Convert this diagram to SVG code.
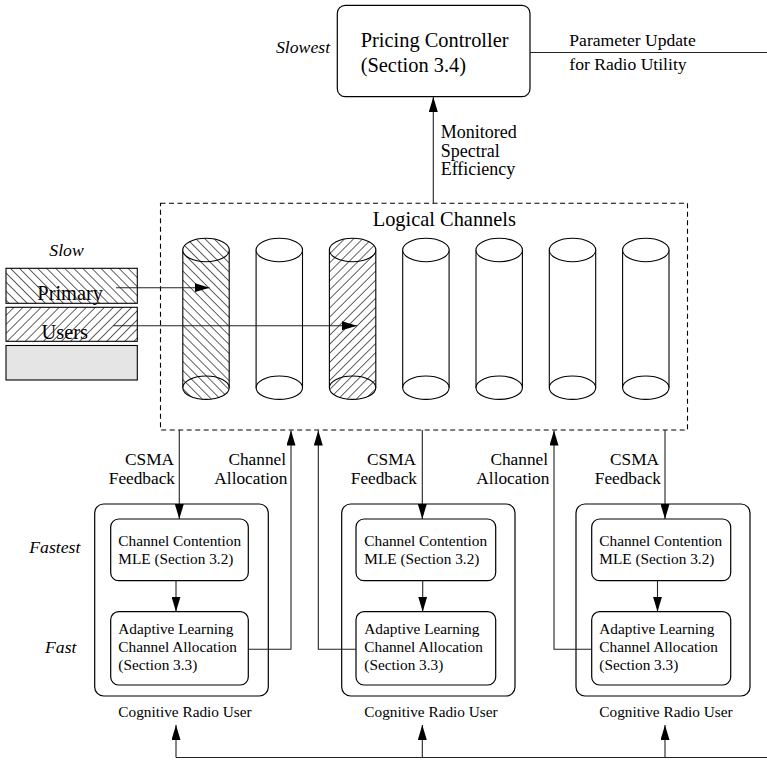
<svg xmlns="http://www.w3.org/2000/svg" width="767" height="760" viewBox="0 0 767 760" font-family="'Liberation Serif', 'Times New Roman', serif">
  <style>
    text { font-family: "Liberation Serif", "Times New Roman", serif; fill: #000; }
    .box { fill: #fff; stroke: #000; stroke-width: 1.2; }
    .dash { fill: none; stroke: #000; stroke-width: 1.1; stroke-dasharray: 5 3.5; }
    .wire { fill: none; stroke: #222; stroke-width: 1.1; }
    .cyl { stroke: #000; stroke-width: 1.1; }
    .t20 { font-size: 20.4px; }
    .t18 { font-size: 18px; }
    .t17 { font-size: 17.3px; }
    .t15 { font-size: 15.3px; }
    .ital { font-size: 17.7px; font-style: italic; }
  </style>
  <defs>
    <marker id="arrow" viewBox="0 0 15 9" refX="15" refY="4.5" markerWidth="15" markerHeight="9" markerUnits="userSpaceOnUse" orient="auto">
      <path d="M0,0 L15,4.5 L0,9 Z" fill="#000"/>
    </marker>
    <!-- back-slash hatching -->
    <pattern id="hatchBack" width="6.4" height="10" patternUnits="userSpaceOnUse" patternTransform="rotate(-45)">
      <rect width="6.4" height="10" fill="#fff"/>
      <line x1="3.2" y1="0" x2="3.2" y2="10" stroke="#333" stroke-width="0.8"/>
    </pattern>
    <!-- forward-slash hatching -->
    <pattern id="hatchFwd" width="6.4" height="10" patternUnits="userSpaceOnUse" patternTransform="rotate(45)">
      <rect width="6.4" height="10" fill="#fff"/>
      <line x1="3.2" y1="0" x2="3.2" y2="10" stroke="#333" stroke-width="0.8"/>
    </pattern>
    <!-- channel cylinder, centred on x=0 -->
    <g id="cylOutline">
      <line x1="-23.2" y1="250" x2="-23.2" y2="387.7"/>
      <line x1="23.2" y1="250" x2="23.2" y2="387.7"/>
      <ellipse cx="0" cy="250" rx="23.2" ry="11.7"/>
      <ellipse cx="0" cy="387.7" rx="23.2" ry="11.7" fill="none"/>
    </g>
    <path id="cylBody" d="M-23.2,250 L-23.2,387.7 A23.2,11.7 0 0 0 23.2,387.7 L23.2,250 A23.2,11.7 0 0 0 -23.2,250 Z"/>
  </defs>

  <!-- pricing controller -->
  <g id="pricing">
    <rect class="box" x="337.3" y="5.3" width="192.7" height="91.4" rx="8"/>
    <text class="t20" x="360.7" y="47.3">Pricing Controller</text>
    <text class="t20" x="360.7" y="71.5">(Section 3.4)</text>
    <text class="ital" x="276" y="53">Slowest</text>
  </g>

  <!-- logical channels -->
  <g id="logical-channels">
    <rect class="dash" x="160.5" y="203.3" width="527" height="226.7"/>
    <text class="t20" x="372.7" y="226">Logical Channels</text>
    <g class="cyl" fill="url(#hatchBack)" transform="translate(206,0)">
      <use href="#cylBody" stroke="none"/>
      <use href="#cylOutline" fill="url(#hatchBack)"/>
    </g>
    <g class="cyl" fill="#fff" transform="translate(279.3,0)">
      <use href="#cylBody" stroke="none"/>
      <use href="#cylOutline"/>
    </g>
    <g class="cyl" fill="url(#hatchFwd)" transform="translate(352.6,0)">
      <use href="#cylBody" stroke="none"/>
      <use href="#cylOutline" fill="url(#hatchFwd)"/>
    </g>
    <g class="cyl" fill="#fff" transform="translate(425.9,0)">
      <use href="#cylBody" stroke="none"/>
      <use href="#cylOutline"/>
    </g>
    <g class="cyl" fill="#fff" transform="translate(499.2,0)">
      <use href="#cylBody" stroke="none"/>
      <use href="#cylOutline"/>
    </g>
    <g class="cyl" fill="#fff" transform="translate(572.5,0)">
      <use href="#cylBody" stroke="none"/>
      <use href="#cylOutline"/>
    </g>
    <g class="cyl" fill="#fff" transform="translate(645.8,0)">
      <use href="#cylBody" stroke="none"/>
      <use href="#cylOutline"/>
    </g>
  </g>

  <!-- primary users -->
  <g id="primary-users">
    <text class="ital" x="49.3" y="255.7">Slow</text>
    <rect x="6" y="268.3" width="131.3" height="35" fill="url(#hatchBack)" stroke="#000" stroke-width="1.1"/>
    <rect x="6" y="307.3" width="131.3" height="34" fill="url(#hatchFwd)" stroke="#000" stroke-width="1.1"/>
    <rect x="6" y="345.5" width="131.3" height="34.5" fill="#e5e5e5" stroke="#000" stroke-width="1.1"/>
    <text class="t20" x="37.3" y="299.5">Primary</text>
    <text class="t20" x="41.5" y="339">Users</text>
  </g>

  <!-- cognitive radio user 1 -->
  <g id="cr-user-1">
    <rect class="box" x="94.7" y="504" width="173.6" height="192" rx="9"/>
    <g id="mle-1">
      <rect class="box" x="110.7" y="519" width="137.6" height="61.7" rx="8"/>
      <text class="t15" x="118.3" y="545.7">Channel Contention</text>
      <text class="t15" x="118.3" y="563.5">MLE (Section 3.2)</text>
    </g>
    <g id="alloc-1">
      <rect class="box" x="110.7" y="611.7" width="137.6" height="73.3" rx="8"/>
      <text class="t15" x="118.3" y="633.5">Adaptive Learning</text>
      <text class="t15" x="118.3" y="652">Channel Allocation</text>
      <text class="t15" x="118.3" y="670">(Section 3.3)</text>
    </g>
    <text class="t15" x="118.3" y="717.3">Cognitive Radio User</text>
  </g>

  <!-- cognitive radio user 2 -->
  <g id="cr-user-2">
    <rect class="box" x="341.7" y="504" width="173.3" height="192" rx="9"/>
    <g id="mle-2">
      <rect class="box" x="356" y="519" width="139.7" height="61.7" rx="8"/>
      <text class="t15" x="364.3" y="545.7">Channel Contention</text>
      <text class="t15" x="364.3" y="563.5">MLE (Section 3.2)</text>
    </g>
    <g id="alloc-2">
      <rect class="box" x="356" y="611.7" width="139.7" height="73.3" rx="8"/>
      <text class="t15" x="364.3" y="633.5">Adaptive Learning</text>
      <text class="t15" x="364.3" y="652">Channel Allocation</text>
      <text class="t15" x="364.3" y="670">(Section 3.3)</text>
    </g>
    <text class="t15" x="364.3" y="717.3">Cognitive Radio User</text>
  </g>

  <!-- cognitive radio user 3 -->
  <g id="cr-user-3">
    <rect class="box" x="576" y="504" width="174" height="192" rx="9"/>
    <g id="mle-3">
      <rect class="box" x="591.7" y="519" width="139" height="61.7" rx="8"/>
      <text class="t15" x="599.3" y="545.7">Channel Contention</text>
      <text class="t15" x="599.3" y="563.5">MLE (Section 3.2)</text>
    </g>
    <g id="alloc-3">
      <rect class="box" x="591.7" y="611.7" width="139" height="73.3" rx="8"/>
      <text class="t15" x="599.3" y="633.5">Adaptive Learning</text>
      <text class="t15" x="599.3" y="652">Channel Allocation</text>
      <text class="t15" x="599.3" y="670">(Section 3.3)</text>
    </g>
    <text class="t15" x="599.3" y="717.3">Cognitive Radio User</text>
  </g>

  <!-- side labels -->
  <g id="speed-labels">
    <text class="ital" x="29.3" y="553.3">Fastest</text>
    <text class="ital" x="45" y="653.3">Fast</text>
  </g>

  <!-- connectors -->
  <g id="connectors">
    <line class="wire" x1="433.3" y1="203.3" x2="433.3" y2="97" marker-end="url(#arrow)"/>
    <line class="wire" x1="530" y1="52.5" x2="767" y2="52.5"/>
    <line class="wire" x1="116" y1="287.7" x2="209.5" y2="287.7" marker-end="url(#arrow)"/>
    <line class="wire" x1="113.3" y1="325.7" x2="357" y2="325.7" marker-end="url(#arrow)"/>

    <line class="wire" x1="179.3" y1="430" x2="179.3" y2="519" marker-end="url(#arrow)"/>
    <line class="wire" x1="176" y1="580.7" x2="176" y2="611.7" marker-end="url(#arrow)"/>
    <path class="wire" d="M248.3,649.3 H291 V430.5" marker-end="url(#arrow)"/>

    <path class="wire" d="M356,649.3 H318.3 V430.5" marker-end="url(#arrow)"/>
    <line class="wire" x1="422.3" y1="430" x2="422.3" y2="519" marker-end="url(#arrow)"/>
    <line class="wire" x1="422.7" y1="580.7" x2="422.7" y2="611.7" marker-end="url(#arrow)"/>

    <path class="wire" d="M591.7,649.3 H554 V430.5" marker-end="url(#arrow)"/>
    <line class="wire" x1="665" y1="430" x2="665" y2="519" marker-end="url(#arrow)"/>
    <line class="wire" x1="657.5" y1="580.7" x2="657.5" y2="611.7" marker-end="url(#arrow)"/>

    <line class="wire" x1="176" y1="757.5" x2="767" y2="757.5"/>
    <line class="wire" x1="176" y1="757.5" x2="176" y2="725" marker-end="url(#arrow)"/>
    <line class="wire" x1="422.3" y1="757.5" x2="422.3" y2="725" marker-end="url(#arrow)"/>
    <line class="wire" x1="665" y1="757.5" x2="665" y2="725" marker-end="url(#arrow)"/>
  </g>

  <!-- connector labels -->
  <g id="connector-labels">
    <text class="t18" x="569.3" y="45.7" style="font-size:17.6px">Parameter Update</text>
    <text class="t18" x="569.3" y="70" style="font-size:17.6px">for Radio Utility</text>
    <text class="t18" x="440.7" y="138.3">Monitored</text>
    <text class="t18" x="440.7" y="156.5">Spectral</text>
    <text class="t18" x="440.7" y="175">Efficiency</text>

    <text class="t17" x="174" y="464.8" text-anchor="end">CSMA</text>
    <text class="t17" x="175" y="483.7" text-anchor="end">Feedback</text>
    <text class="t17" x="286" y="464.8" text-anchor="end">Channel</text>
    <text class="t17" x="287.3" y="483.7" text-anchor="end">Allocation</text>

    <text class="t17" x="416" y="464.8" text-anchor="end">CSMA</text>
    <text class="t17" x="417" y="483.7" text-anchor="end">Feedback</text>
    <text class="t17" x="548" y="464.8" text-anchor="end">Channel</text>
    <text class="t17" x="549.3" y="483.7" text-anchor="end">Allocation</text>

    <text class="t17" x="659" y="464.8" text-anchor="end">CSMA</text>
    <text class="t17" x="661" y="483.7" text-anchor="end">Feedback</text>
  </g>
</svg>
